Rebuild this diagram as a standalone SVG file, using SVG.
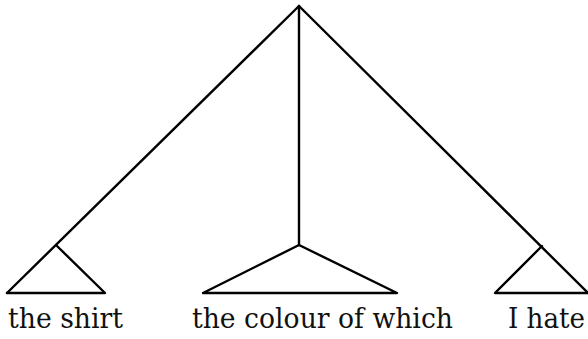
<svg xmlns="http://www.w3.org/2000/svg" width="588" height="339" viewBox="0 0 588 339">
<style>
.ln{stroke:#000;stroke-width:2.4;fill:none;stroke-linecap:round;stroke-linejoin:round}
.lb{font-family:"DejaVu Serif","Liberation Serif",serif;font-size:27px;fill:#111}
</style>
<rect width="588" height="339" fill="#fff"/>
<g id="connectors">
<line class="ln" x1="299" y1="6" x2="7" y2="293"/>
<line class="ln" x1="299" y1="6" x2="299" y2="245"/>
<line class="ln" x1="299" y1="6" x2="588" y2="293"/>
</g>
<g id="np1">
<polyline class="ln" points="57,246 105,293 7,293"/>
<text class="lb" x="8" y="328" textLength="115" lengthAdjust="spacingAndGlyphs">the shirt</text>
</g>
<g id="np2">
<polyline class="ln" points="299,245 397,293 203,293 299,245"/>
<text class="lb" x="192" y="328" textLength="261" lengthAdjust="spacingAndGlyphs">the colour of which</text>
</g>
<g id="s">
<polyline class="ln" points="542,246 495,293 588,293"/>
<text class="lb" x="508" y="328" textLength="77" lengthAdjust="spacingAndGlyphs">I hate</text>
</g>
</svg>
